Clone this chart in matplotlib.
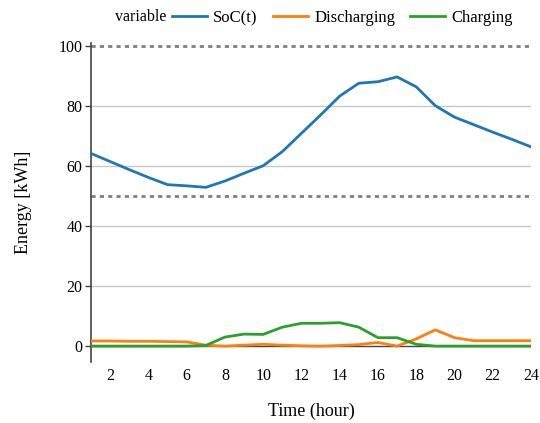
import matplotlib
matplotlib.use("Agg")
import matplotlib.pyplot as plt
from matplotlib.lines import Line2D

hours = list(range(1, 25))
soc = [64.2, 61.5, 58.8, 56.2, 53.8, 53.4, 52.9, 55.0, 57.6, 60.1, 64.8, 70.9,
       77.0, 83.3, 87.6, 88.1, 89.7, 86.4, 80.1, 76.3, 73.8, 71.3, 68.9, 66.4]
discharging = [1.7, 1.7, 1.6, 1.6, 1.5, 1.4, 0.3, 0.0, 0.3, 0.6, 0.3, 0.1,
               0.0, 0.2, 0.5, 1.2, 0.0, 2.4, 5.4, 2.8, 1.8, 1.8, 1.8, 1.8]
charging = [0, 0, 0, 0, 0, 0, 0.2, 3.0, 4.0, 3.9, 6.3, 7.6,
            7.6, 7.8, 6.3, 2.8, 2.8, 0.6, 0, 0, 0, 0, 0, 0]
series_names = ["SoC(t)", "Discharging", "Charging"]
colors = ["#1f77b4", "#ff7f0e", "#2ca02c"]
x_ticks = list(range(2, 25, 2))
y_ticks = [0, 20, 40, 60, 80, 100]
ref_lines = [100, 50]

plt.rcParams['font.family'] = ['Liberation Serif', 'DejaVu Serif']

fig = plt.figure(figsize=(5.4, 4.23), dpi=100)
ax = fig.add_axes([91/540, 1-362/423, 440/540, (362-43)/423])

for y in [20, 40, 60, 80]:
    ax.axhline(y, color="#c8c8c8", lw=1.0, zorder=1)
ax.axhline(0, color="#444444", lw=1.0, zorder=1)
for y in ref_lines:
    ax.axhline(y, color="#808080", lw=2.0, ls=(0, (1.5, 1.5)), zorder=2)

for vals, c in zip([soc, discharging, charging], colors):
    ax.plot(hours, vals, color=c, lw=2.0, zorder=3)

ax.set_xlim(1, 24)
ax.set_ylim(-5.3, 101)
ax.set_xticks(x_ticks)
ax.set_yticks(y_ticks)
for s in ["top", "right", "bottom"]:
    ax.spines[s].set_visible(False)
ax.spines["left"].set_color("#444444")
ax.spines["left"].set_linewidth(1.2)
ax.tick_params(axis="x", length=0, pad=4, labelsize=11.5)
ax.tick_params(axis="y", length=4, width=1, color="#444444", direction="out", labelsize=11.5, pad=2)
ax.set_xlabel("Time (hour)", fontsize=13, labelpad=14)
ax.set_ylabel("Energy [kWh]", fontsize=13, labelpad=19)

handles = [Line2D([0], [0], color=c, lw=2.0) for c in colors]
fig.text(141/540, 1-17/423, "variable", ha="center", va="center", fontsize=11.5)
fig.legend(handles, series_names, ncol=3, loc="center left",
           bbox_to_anchor=(172/540, 1-18/423), frameon=False, fontsize=12,
           handlelength=2.1, handletextpad=0.38, columnspacing=0.9, borderaxespad=0,
           borderpad=0)

fig.savefig("out.png", dpi=100)
